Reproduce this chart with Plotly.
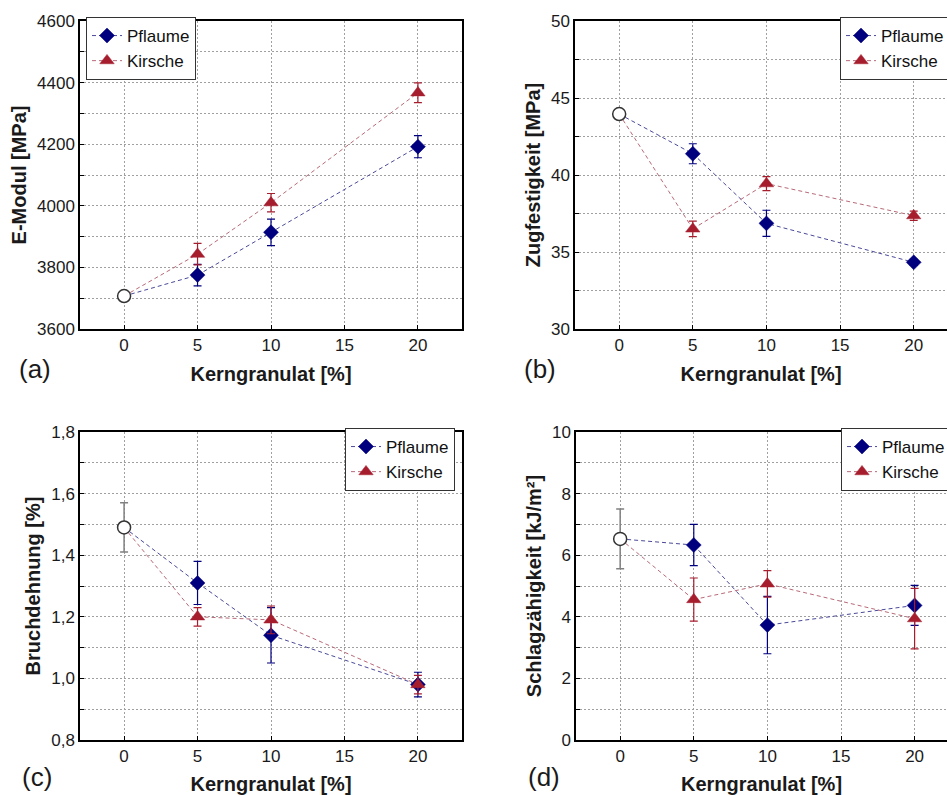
import plotly.graph_objects as go

# ---------------- data ----------------
x_levels = [5, 10, 20]
x_ref = [0]
x_tick_vals = [0, 5, 10, 15, 20]

# (a) E-Modul [MPa]
emod_ref = [3707]
emod_ref_err = [10]
emod_pfl = [3775, 3914, 4192]
emod_pfl_err = [35, 43, 36]
emod_kir = [3843, 4010, 4367]
emod_kir_err = [35, 30, 32]

# (b) Zugfestigkeit [MPa]
zug_ref = [43.96]
zug_ref_err = [0.3]
zug_pfl = [41.38, 36.86, 34.33]
zug_pfl_err = [0.65, 0.85, 0.2]
zug_kir = [36.5, 39.44, 37.36]
zug_kir_err = [0.5, 0.45, 0.3]

# (c) Bruchdehnung [%]
bruch_ref = [1.49]
bruch_ref_err = [0.08]
bruch_pfl = [1.31, 1.14, 0.98]
bruch_pfl_err = [0.07, 0.09, 0.04]
bruch_kir = [1.20, 1.19, 0.98]
bruch_kir_err = [0.03, 0.045, 0.03]

# (d) Schlagzaehigkeit [kJ/m²]
schlag_ref = [6.53]
schlag_ref_err = [0.97]
schlag_pfl = [6.33, 3.73, 4.37]
schlag_pfl_err = [0.67, 0.93, 0.65]
schlag_kir = [4.56, 5.07, 3.94]
schlag_kir_err = [0.7, 0.43, 0.98]

series_names = ["Pflaume", "Kirsche"]
panel_labels = ["(a)", "(b)", "(c)", "(d)"]
y_titles = ["E-Modul [MPa]", "Zugfestigkeit [MPa]", "Bruchdehnung [%]", "Schlagzähigkeit [kJ/m²]"]
x_title = "Kerngranulat [%]"

# ---------------- style ----------------
W, H = 947, 795
FONT = "Arial, Liberation Sans, sans-serif"
NAVY = "#00007f"
NAVY_LINE = "#4a4a9a"
RED = "#a61e2e"
RED_LINE = "#b86a78"
GRID = "#a0a0a0"
TXT = "#1a1a1a"


def px_x(p):
    return p / W


def px_y(p):
    return 1 - p / H


panels = [
    dict(data=(emod_ref, emod_ref_err, emod_pfl, emod_pfl_err, emod_kir, emod_kir_err),
         xdom=(80, 462), ydom=(21, 329), xrange=[-3, 23], yrange=[3600, 4600], dtick=200, minor=100,
         legend=(86, 17), label=(35, 369), fmt=None, ymirror=True),
    dict(data=(zug_ref, zug_ref_err, zug_pfl, zug_pfl_err, zug_kir, zug_kir_err),
         xdom=(575, 947), ydom=(21, 329), xrange=[-3, 22.26], yrange=[30, 50], dtick=5, minor=2.5,
         legend=(840, 17), label=(540, 369), fmt=None, ymirror=False),
    dict(data=(bruch_ref, bruch_ref_err, bruch_pfl, bruch_pfl_err, bruch_kir, bruch_kir_err),
         xdom=(80, 462), ydom=(432, 740), xrange=[-3, 23], yrange=[0.8, 1.8], dtick=0.2, minor=0.1,
         legend=(345, 428), label=(37, 777), fmt=".1f", ymirror=True),
    dict(data=(schlag_ref, schlag_ref_err, schlag_pfl, schlag_pfl_err, schlag_kir, schlag_kir_err),
         xdom=(576, 947), ydom=(432, 740), xrange=[-3, 22.2], yrange=[0, 10], dtick=2, minor=1,
         legend=(841, 428), label=(544, 777), fmt=None, ymirror=False),
]

fig = go.Figure()
layout = dict(
    width=W, height=H,
    margin=dict(l=0, r=0, t=0, b=0, autoexpand=False),
    paper_bgcolor="white", plot_bgcolor="white",
    font=dict(family=FONT, color=TXT),
    separators=",.",
    showlegend=True,
    annotations=[],
)

for i, p in enumerate(panels):
    n = "" if i == 0 else str(i + 1)
    xa, ya = "x" + n, "y" + n
    leg = "legend" + n
    ref, ref_err, pfl, pfl_err, kir, kir_err = p["data"]

    series = [
        (series_names[0], pfl, pfl_err, NAVY, NAVY_LINE, "diamond", 11.5),
        (series_names[1], kir, kir_err, RED, RED_LINE, "triangle-up", 12.5),
    ]
    for name, vals, errs, mc, lc, sym, size in series:
        # connecting segment from the reference point
        fig.add_trace(go.Scatter(
            x=x_ref + x_levels[:1], y=ref + vals[:1], mode="lines",
            line=dict(color=lc, width=1, dash="4px,3px"),
            xaxis=xa, yaxis=ya, showlegend=False, hoverinfo="skip", legend=leg))
    for name, vals, errs, mc, lc, sym, size in series:
        fig.add_trace(go.Scatter(
            x=x_levels, y=vals, mode="lines+markers", name=name,
            line=dict(color=lc, width=1, dash="4px,3px"),
            marker=dict(symbol=sym, size=size, color=mc, line=dict(width=0.5, color=mc)),
            error_y=dict(type="data", array=errs, visible=True, color=mc, thickness=1.2, width=4),
            xaxis=xa, yaxis=ya, legend=leg))
    # reference (0 %) point
    fig.add_trace(go.Scatter(
        x=x_ref, y=ref, mode="markers",
        marker=dict(symbol="circle", size=13, color="white", line=dict(width=1.5, color="#333333")),
        error_y=dict(type="data", array=ref_err, visible=True, color="#808080", thickness=1.5, width=4),
        xaxis=xa, yaxis=ya, showlegend=False, legend=leg))

    common = dict(showline=True, linecolor="black", linewidth=1.5,
                  ticks="inside", ticklen=4, tickwidth=1.2, tickcolor="black",
                  showgrid=True, gridcolor=GRID, gridwidth=1, griddash="2px,2px",
                  zeroline=False, tickfont=dict(size=17, family=FONT, color=TXT))
    layout["xaxis" + n] = dict(
        common, domain=[px_x(p["xdom"][0]), px_x(p["xdom"][1])], range=p["xrange"],
        anchor=ya, tickmode="array", tickvals=x_tick_vals, mirror=True,
        title=dict(text=x_title, font=dict(size=20, family=FONT, weight="bold", color=TXT),
                   standoff=13))
    yax = dict(
        common, domain=[px_y(p["ydom"][1]), px_y(p["ydom"][0])], range=p["yrange"],
        anchor=xa, dtick=p["dtick"], tick0=p["yrange"][0], mirror=p["ymirror"],
        minor=dict(dtick=p["minor"], showgrid=True, gridcolor=GRID, gridwidth=1, griddash="2px,2px",
                   ticks="inside", ticklen=4, tickwidth=1.2, tickcolor="black"),
        title=dict(text=y_titles[i], font=dict(size=20, family=FONT, weight="bold", color=TXT),
                   standoff=5))
    if p["fmt"]:
        yax["tickformat"] = p["fmt"]
    layout["yaxis" + n] = yax
    layout[leg] = dict(
        x=px_x(p["legend"][0]), y=px_y(p["legend"][1]), xanchor="left", yanchor="top",
        bgcolor="white", bordercolor="#333333", borderwidth=1,
        font=dict(size=17, family=FONT, color="#111111"), tracegroupgap=0)
    layout["annotations"].append(dict(
        text=panel_labels[i], x=px_x(p["label"][0]), y=px_y(p["label"][1]),
        xref="paper", yref="paper", showarrow=False, xanchor="center", yanchor="middle",
        font=dict(size=26, family=FONT, color=TXT)))

fig.update_layout(**layout)
fig.write_html("out.html", config={"displayModeBar": False},
               post_script="document.body.style.margin='0';document.body.style.overflow='hidden';")
